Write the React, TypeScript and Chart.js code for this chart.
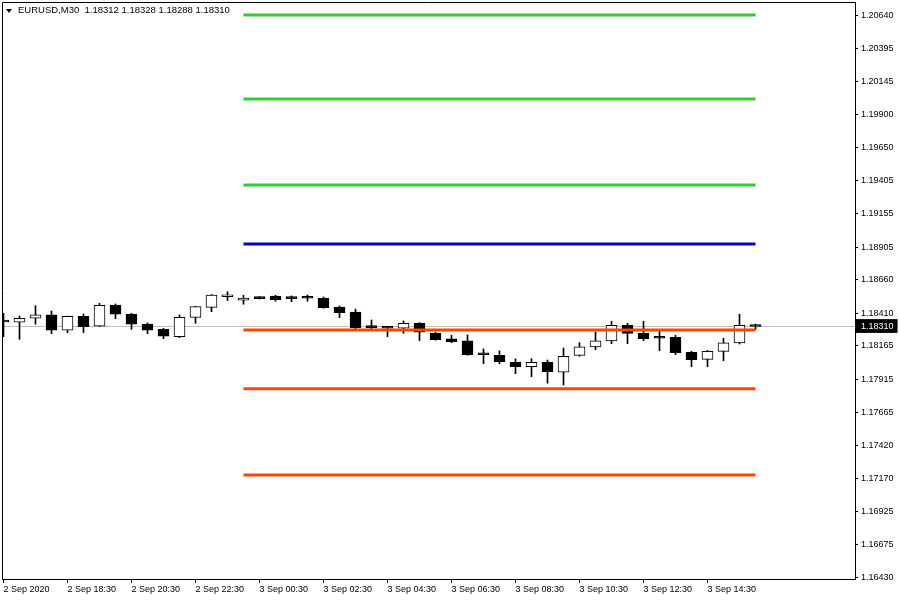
import React, { useEffect, useRef } from "react";
import { Chart, registerables } from "chart.js";

Chart.register(...registerables);

// ---- Data (EURUSD M30) ----
const opens = [1.18348, 1.18342, 1.18372, 1.18397, 1.18282, 1.18387, 1.18312, 1.18471, 1.18402, 1.18329, 1.18289, 1.18234, 1.18379, 1.18454, 1.18533, 1.18507, 1.18531, 1.18539, 1.18531, 1.18526, 1.18522, 1.18456, 1.18419, 1.18304, 1.18299, 1.18297, 1.18334, 1.18259, 1.18217, 1.18202, 1.181, 1.18094, 1.18042, 1.18009, 1.18042, 1.17967, 1.18094, 1.18157, 1.18202, 1.18319, 1.18259, 1.18226, 1.18229, 1.18117, 1.18064, 1.18124, 1.18187, 1.18312];
const highs = [1.18409, 1.18389, 1.18466, 1.18426, 1.18389, 1.18404, 1.18484, 1.18479, 1.18409, 1.18337, 1.18297, 1.18397, 1.18462, 1.1855, 1.18571, 1.18544, 1.18534, 1.18544, 1.18539, 1.18546, 1.18531, 1.18464, 1.18441, 1.18359, 1.18312, 1.18352, 1.18339, 1.18267, 1.18244, 1.18246, 1.18142, 1.18127, 1.18067, 1.18069, 1.18059, 1.18149, 1.18189, 1.18269, 1.18349, 1.18334, 1.18349, 1.18274, 1.18244, 1.18124, 1.18132, 1.18222, 1.18402, 1.18328];
const lows = [1.18234, 1.18214, 1.18327, 1.18256, 1.18264, 1.18264, 1.1831, 1.18369, 1.18289, 1.18256, 1.18219, 1.18226, 1.18334, 1.18421, 1.18504, 1.18477, 1.18516, 1.18499, 1.18496, 1.18499, 1.18447, 1.18376, 1.18294, 1.18294, 1.18234, 1.18259, 1.18204, 1.18207, 1.18189, 1.18094, 1.18031, 1.18031, 1.17956, 1.17934, 1.17885, 1.17872, 1.18087, 1.18136, 1.18181, 1.18181, 1.18204, 1.18129, 1.18099, 1.18009, 1.18009, 1.18054, 1.18179, 1.18288];
const closes = [1.18344, 1.18372, 1.18397, 1.18282, 1.18387, 1.18309, 1.18469, 1.18402, 1.18327, 1.18282, 1.18237, 1.18379, 1.18459, 1.18546, 1.18535, 1.18524, 1.18519, 1.18511, 1.18519, 1.18522, 1.18451, 1.18414, 1.18299, 1.18302, 1.18297, 1.18334, 1.18267, 1.18211, 1.18196, 1.18099, 1.18098, 1.18046, 1.18009, 1.18042, 1.17971, 1.18087, 1.18157, 1.18202, 1.18319, 1.18259, 1.18219, 1.18222, 1.18114, 1.18061, 1.18124, 1.18187, 1.18319, 1.1831];

const greenLevels = [1.20645, 1.20016, 1.19371];
const blueLevels = [1.18929];
const orangeLevels = [1.18284, 1.17843, 1.17197];
const levelStartBar = 15;
const levelEndBar = 47;

const currentPrice = 1.1831;
const titleText = "EURUSD,M30  1.18312 1.18328 1.18288 1.18310";

const timeTickBars = [0, 4, 8, 12, 16, 20, 24, 28, 32, 36, 40, 44];
const timeTickLabels = ["2 Sep 2020", "2 Sep 18:30", "2 Sep 20:30", "2 Sep 22:30", "3 Sep 00:30", "3 Sep 02:30", "3 Sep 04:30", "3 Sep 06:30", "3 Sep 08:30", "3 Sep 10:30", "3 Sep 12:30", "3 Sep 14:30"];
const priceTicks = [1.2064, 1.20395, 1.20145, 1.199, 1.1965, 1.19405, 1.19155, 1.18905, 1.1866, 1.1841, 1.18165, 1.17915, 1.17665, 1.1742, 1.1717, 1.16925, 1.16675, 1.1643];

const xMin = -0.09375;
const xMax = 53.21875;
const yMin = 1.16417;
const yMax = 1.20743;

const FONT = "'Liberation Sans', Arial, sans-serif";

export default function App() {
  const ref = useRef<HTMLCanvasElement>(null);

  useEffect(() => {
    const canvas = ref.current!;
    const bull = opens.map((o, i) => closes[i] >= o);
    const bodies = opens.map((o, i) => ({ x: i, y: [Math.min(o, closes[i]), Math.max(o, closes[i])] }));
    const wicks = opens.map((_, i) => ({ x: i, y: [lows[i], highs[i]] }));

    const levelSet = (vals: number[], color: string) =>
      vals.map((v) => ({
        type: "line" as const,
        data: [
          { x: levelStartBar, y: v },
          { x: levelEndBar, y: v },
        ],
        borderColor: color,
        borderWidth: 3,
        pointRadius: 0,
        order: 0,
      }));

    const framePlugin = {
      id: "frame",
      afterDraw(chart: any) {
        const { ctx, chartArea } = chart;
        const { left, top, right, bottom } = chartArea;
        ctx.save();
        ctx.strokeStyle = "#000";
        ctx.lineWidth = 1;
        ctx.beginPath();
        ctx.moveTo(left + 0.5, bottom);
        ctx.lineTo(left + 0.5, top + 0.5);
        ctx.lineTo(right, top + 0.5);
        ctx.stroke();
        ctx.restore();
      },
    };

    const isCur = (v: number) => Math.abs(v - currentPrice) < 1e-7;

    const chart = new Chart(canvas, {
      type: "bar",
      data: {
        datasets: [
          ...levelSet(greenLevels, "#32CD32"),
          ...levelSet(blueLevels, "#0000CD"),
          ...levelSet(orangeLevels, "#FF4500"),
          {
            type: "bar",
            data: bodies as any,
            backgroundColor: bull.map((b) => (b ? "#ffffff" : "#000000")),
            borderColor: "#000",
            borderWidth: 1,
            borderSkipped: false,
            barThickness: 11,
            minBarLength: 2,
            grouped: false,
            order: 1,
          },
          {
            type: "bar",
            data: wicks as any,
            backgroundColor: "#000",
            borderWidth: 0,
            barThickness: 1,
            grouped: false,
            order: 2,
          },
          {
            type: "line",
            data: [
              { x: xMin, y: currentPrice },
              { x: xMax, y: currentPrice },
            ],
            borderColor: "#C0C0C0",
            borderWidth: 1,
            pointRadius: 0,
            order: 3,
          },
        ] as any,
      },
      options: {
        responsive: false,
        animation: false,
        layout: { padding: { left: 2, top: 2, right: 0, bottom: 0 } },
        plugins: {
          legend: { display: false },
          tooltip: { enabled: false },
        },
        scales: {
          x: {
            type: "linear",
            min: xMin,
            max: xMax,
            offset: false,
            grid: { drawOnChartArea: false, tickLength: 4, color: "#000", offset: false },
            border: { color: "#000" },
            ticks: {
              autoSkip: false,
              maxRotation: 0,
              minRotation: 0,
              align: "start",
              padding: 1,
              color: "#000",
              font: { family: FONT, size: 9 },
              callback: (_v: any, i: number) => timeTickLabels[i],
            },
            afterBuildTicks: (s: any) => {
              s.ticks = timeTickBars.map((v) => ({ value: v }));
            },
            afterFit: (s: any) => {
              s.height = 21;
              s.paddingLeft = 0;
              s.paddingRight = 0;
            },
          },
          y: {
            type: "linear",
            position: "right",
            min: yMin,
            max: yMax,
            grid: { drawOnChartArea: false, tickLength: 3, color: "#000" },
            border: { color: "#000" },
            ticks: {
              autoSkip: false,
              padding: 3,
              font: { family: FONT, size: 9 },
              color: (c: any) => (isCur(c.tick.value) ? "#fff" : "#000"),
              showLabelBackdrop: (c: any) => isCur(c.tick.value),
              backdropColor: "#000",
              backdropPadding: { left: 6, right: 4, top: 2, bottom: 1 },
              callback: (v: any) => Number(v).toFixed(5),
            },
            afterBuildTicks: (s: any) => {
              s.ticks = [...priceTicks, currentPrice].sort((a, b) => a - b).map((v) => ({ value: v }));
            },
            afterFit: (s: any) => {
              s.width = 45;
              s.paddingTop = 0;
              s.paddingBottom = 0;
            },
          },
        },
      } as any,
      plugins: [framePlugin],
    });

    return () => chart.destroy();
  }, []);

  return (
    <div style={{ position: "absolute", left: 0, top: 0, width: 900, height: 600, background: "#fff" }}>
      <canvas ref={ref} width={900} height={600} style={{ display: "block" }} />
      <div
        style={{
          position: "absolute",
          left: 6,
          top: 9,
          width: 0,
          height: 0,
          borderLeft: "3.5px solid transparent",
          borderRight: "3.5px solid transparent",
          borderTop: "4px solid #000",
        }}
      />
      <div
        style={{
          position: "absolute",
          left: 18,
          top: 4,
          fontFamily: FONT,
          fontSize: 9.5,
          color: "#000",
          whiteSpace: "pre",
          lineHeight: "12px",
        }}
      >
        {titleText}
      </div>
    </div>
  );
}
